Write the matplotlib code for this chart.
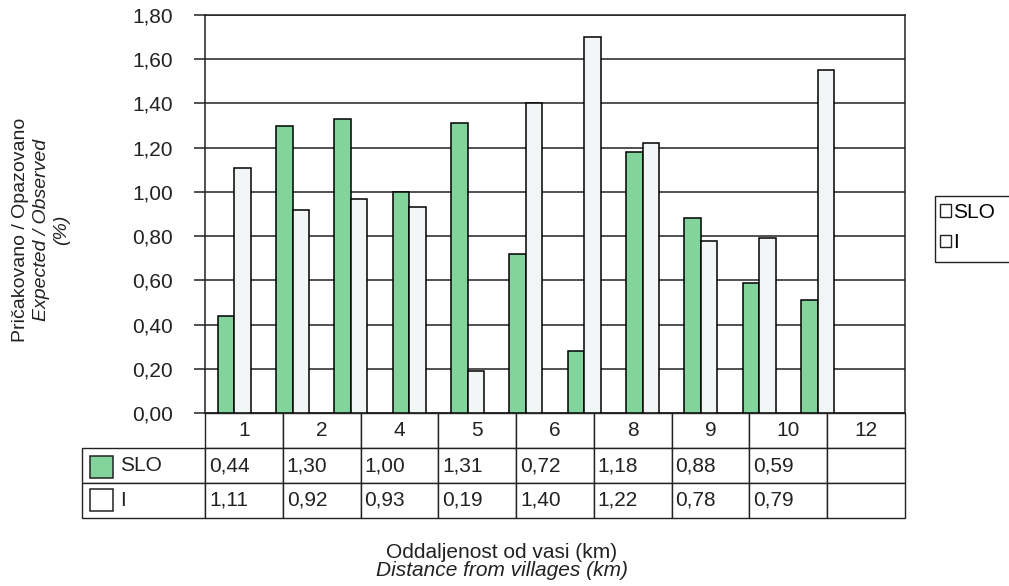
import numpy as np
import matplotlib
matplotlib.use('Agg')
import matplotlib.pyplot as plt
from matplotlib.patches import Patch, Rectangle

plt.rcParams['font.family'] = ['Liberation Sans', 'DejaVu Sans']

# ---------------- data ----------------
series_names = ['SLO', 'I']
slo_values = [0.44, 1.30, 1.33, 1.00, 1.31, 0.72, 0.28, 1.18, 0.88, 0.59, 0.51]
i_values = [1.11, 0.92, 0.97, 0.93, 0.19, 1.40, 1.70, 1.22, 0.78, 0.79, 1.55]
n_slots = 12  # category slots along the x axis (last one empty)

table_columns = ['1', '2', '4', '5', '6', '8', '9', '10', '12']
table_bar_index = [0, 1, 3, 4, 5, 7, 8, 9]  # bars that are listed in the table

y_ticks = [0.0, 0.2, 0.4, 0.6, 0.8, 1.0, 1.2, 1.4, 1.6, 1.8]

green = '#82d49c'
white_bar = '#f3f6f6'
ink = '#222222'
FS = 15


def fmt(v):
    return f'{v:.2f}'.replace('.', ',')


# ---------------- figure ----------------
W, H = 1009, 586
fig = plt.figure(figsize=(W / 100, H / 100), dpi=100)
ax = fig.add_axes([205 / W, 1 - 413 / H, 700 / W, 398 / H])

x = np.arange(len(slo_values)) + 0.5
bw = 0.285
ax.bar(x - bw / 2, slo_values, bw, color=green, edgecolor='black', linewidth=1.1, zorder=3)
ax.bar(x + bw / 2, i_values, bw, color=white_bar, edgecolor='black', linewidth=1.1, zorder=3)

ax.set_xlim(0, n_slots)
ax.set_ylim(0, 1.8)
ax.set_yticks(y_ticks)
ax.set_yticklabels([fmt(v) for v in y_ticks], fontsize=FS, color=ink)
ax.tick_params(axis='y', length=8, width=1.1, pad=15, color=ink)
ax.set_xticks([])
ax.yaxis.grid(True, color=ink, linewidth=1.1)
ax.set_axisbelow(True)
for s in ax.spines.values():
    s.set_color(ink)
    s.set_linewidth(1.1)

# data table under the plot (bbox covers the value cells, row labels sit left of it)
cell_text = [
    [fmt(slo_values[k]) for k in table_bar_index] + [''],
    [fmt(i_values[k]) for k in table_bar_index] + [''],
]
label_w = 123 / 700
tbl = ax.table(cellText=cell_text, colLabels=table_columns,
               colWidths=[1 / 9] * 9,
               cellLoc='left', colLoc='center',
               bbox=[0, -105 / 398, 1, 105 / 398])
cell_h = tbl[1, 0].get_height()
for r, name in enumerate(series_names, start=1):
    tbl.add_cell(r, -1, width=label_w, height=cell_h, text=name, loc='left')
tbl.auto_set_font_size(False)
tbl.set_fontsize(FS)
for (r, c), cell in tbl.get_celld().items():
    cell.set_edgecolor(ink)
    cell.set_linewidth(1.0)
    cell.get_text().set_color(ink)
    if c == -1:
        cell.PAD = 0.31
    elif r > 0:
        cell.PAD = 0.05

# colour keys in the row label cells
ax.add_patch(Rectangle(((90 - 205) / 700, (413 - 478) / 398), 23 / 700, 22 / 398,
                       transform=ax.transAxes, facecolor=green, edgecolor=ink,
                       linewidth=1.1, clip_on=False, zorder=5))
ax.add_patch(Rectangle(((90 - 205) / 700, (413 - 511) / 398), 23 / 700, 22 / 398,
                       transform=ax.transAxes, facecolor='white', edgecolor=ink,
                       linewidth=1.1, clip_on=False, zorder=5))

# legend at the right edge, its box runs off the figure
fig.add_artist(Rectangle((935 / W, 1 - 262 / H), 90 / W, 66 / H, transform=fig.transFigure,
                         facecolor='white', edgecolor=ink, linewidth=1.0, clip_on=False))
handles = [Patch(facecolor='white', edgecolor=ink, label=series_names[0]),
           Patch(facecolor='white', edgecolor=ink, label=series_names[1])]
leg = fig.legend(handles=handles, loc='upper left', bbox_to_anchor=(940 / W, 1 - 203 / H),
                 frameon=False, fontsize=FS, handlelength=0.55, handleheight=0.55,
                 handletextpad=0.1, labelspacing=0.55, borderpad=0, borderaxespad=0)

# axis titles
fig.text(502 / W, 1 - 552 / H, 'Oddaljenost od vasi (km)', ha='center', va='center',
         fontsize=FS, color=ink)
fig.text(502 / W, 1 - 571 / H, 'Distance from villages (km)', ha='center', va='center',
         fontsize=FS, style='italic', color=ink)
fig.text(21 / W, 1 - 230 / H, 'Pričakovano / Opazovano', rotation=90, ha='center',
         va='center', fontsize=14, color=ink)
fig.text(42 / W, 1 - 230 / H, 'Expected / Observed', rotation=90, ha='center',
         va='center', fontsize=14, style='italic', color=ink)
fig.text(62 / W, 1 - 230 / H, '(%)', rotation=90, ha='center',
         va='center', fontsize=14, style='italic', color=ink)

fig.savefig('out.png', dpi=100)
